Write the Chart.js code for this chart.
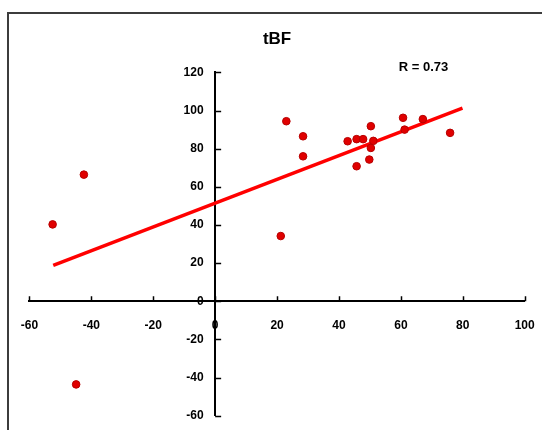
<!DOCTYPE html>
<html>
<head>
<meta charset="utf-8">
<script src="https://cdn.jsdelivr.net/npm/chart.js@4"></script>
<style>
  html, body { margin: 0; padding: 0; background: #fff; }
  canvas { display: block; }
</style>
</head>
<body>
<canvas id="grafico" width="542" height="430"></canvas>
<script>
// valores
const valoresX = [-52.5, -42.4, -44.9, 21.2, 23.0, 28.4, 28.4, 42.8, 45.7, 47.8, 45.7, 50.3, 51.1, 50.3, 49.8, 60.7, 61.2, 67.1, 75.9];
const valoresY = [40.3, 66.4, -43.6, 34.2, 94.4, 86.5, 76.0, 83.9, 85.0, 85.0, 70.8, 91.8, 84.1, 80.4, 74.3, 96.2, 90.0, 95.5, 88.3];
const retaX = [-52.3, 79.9];
const retaY = [18.8, 101.3];
const titulo = 'tBF';
const textoR = 'R = 0.73';

const fonte = "'Liberation Sans', Arial, sans-serif";
const fonteEixo = 'bold 12px ' + fonte;

const moldura = {
  id: 'moldura',
  beforeDraw(chart) {
    const ctx = chart.ctx;
    ctx.save();
    ctx.fillStyle = '#fff';
    ctx.fillRect(0, 0, chart.width, chart.height);
    ctx.strokeStyle = '#3c3c3c';
    ctx.lineWidth = 2;
    ctx.strokeRect(8, 13, 700, 700);
    ctx.restore();
  },
  afterDraw(chart) {
    const ctx = chart.ctx;
    const sx = chart.scales.x;
    const sy = chart.scales.y;
    const x0 = sx.getPixelForValue(0);
    const y0 = sy.getPixelForValue(0);
    ctx.save();
    // marcas dos eixos (para dentro)
    ctx.strokeStyle = '#000';
    ctx.lineWidth = 1.5;
    ctx.beginPath();
    sx.ticks.forEach(t => {
      const px = Math.round(sx.getPixelForValue(t.value)) + 0.5;
      ctx.moveTo(px, y0);
      ctx.lineTo(px, y0 - 5);
    });
    sy.ticks.forEach(t => {
      const py = Math.round(sy.getPixelForValue(t.value)) + 0.5;
      ctx.moveTo(x0, py);
      ctx.lineTo(x0 + 6, py);
    });
    ctx.stroke();
    // rótulos do eixo y
    ctx.fillStyle = '#000';
    ctx.font = fonteEixo;
    ctx.textAlign = 'right';
    ctx.textBaseline = 'middle';
    sy.ticks.forEach(t => {
      ctx.fillText(t.label, x0 - 11.5, sy.getPixelForValue(t.value));
    });
    // R
    ctx.font = 'bold 13px ' + fonte;
    ctx.textAlign = 'center';
    ctx.fillText(textoR, 423.5, 67);
    ctx.restore();
  }
};

const ctx = document.getElementById('grafico').getContext('2d');

new Chart(ctx, {
  type: 'scatter',
  data: {
    datasets: [
      {
        label: 'tBF',
        data: valoresX.map((x, i) => ({ x, y: valoresY[i] })),
        backgroundColor: '#e00000',
        borderColor: '#b80000',
        borderWidth: 1,
        pointRadius: 3.8,
        order: 1
      },
      {
        type: 'line',
        label: 'reta',
        data: retaX.map((x, i) => ({ x, y: retaY[i] })),
        borderColor: '#ff0000',
        borderWidth: 3.5,
        pointRadius: 0,
        fill: false,
        order: 2
      }
    ]
  },
  options: {
    responsive: false,
    animation: false,
    devicePixelRatio: 1,
    layout: { padding: { left: 29.4, right: 17.3, top: 0, bottom: 14.3 } },
    plugins: {
      legend: { display: false },
      tooltip: { enabled: false },
      title: {
        display: true,
        text: titulo,
        color: '#000',
        font: { family: fonte, size: 17, weight: 'bold', lineHeight: 1.2 },
        padding: { top: 29.5, bottom: 22.5 }
      }
    },
    scales: {
      x: {
        type: 'linear',
        position: { y: 0 },
        min: -60,
        max: 100,
        afterFit: s => { s.height = 0; s.paddingLeft = 0; s.paddingRight = 0; },
        border: { display: true, color: '#000', width: 2 },
        grid: { display: true, drawOnChartArea: false, drawTicks: false },
        ticks: {
          stepSize: 20,
          autoSkip: false,
          maxRotation: 0,
          padding: 17,
          color: '#000',
          font: { family: fonte, size: 12, weight: 'bold' }
        }
      },
      y: {
        type: 'linear',
        position: { x: 0 },
        min: -60,
        max: 120,
        afterFit: s => { s.width = 0; s.paddingTop = 0; s.paddingBottom = 0; },
        border: { display: true, color: '#000', width: 2 },
        grid: { display: true, drawOnChartArea: false, drawTicks: false },
        ticks: {
          stepSize: 20,
          autoSkip: false,
          display: false,
          font: { family: fonte, size: 12, weight: 'bold' }
        }
      }
    }
  },
  plugins: [moldura]
});
</script>
</body>
</html>
